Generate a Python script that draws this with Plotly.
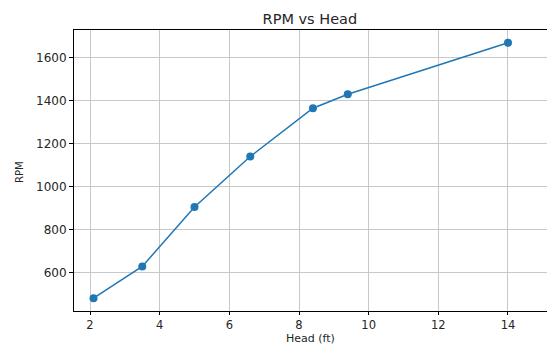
import plotly.graph_objects as go

head_ft = [2.1, 3.5, 5.0, 6.6, 8.4, 9.4, 14.0]
rpm = [480, 628, 905, 1140, 1365, 1430, 1670]
x_ticks = [2, 4, 6, 8, 10, 12, 14]
y_ticks = [600, 800, 1000, 1200, 1400, 1600]

fig = go.Figure()
fig.add_trace(go.Scatter(
    x=head_ft, y=rpm, mode="lines+markers",
    line=dict(color="#1f77b4", width=1.5),
    marker=dict(color="#1f77b4", size=8),
    showlegend=False,
))

font = "DejaVu Sans, sans-serif"
fig.update_layout(
    width=547, height=344,
    margin=dict(l=74, r=0, t=30, b=33, autoexpand=False),
    paper_bgcolor="white", plot_bgcolor="white",
    title=dict(text="RPM vs Head", x=0.5665, xanchor="center", y=1 - 19 / 344, yanchor="middle",
               font=dict(family=font, size=14.5, color="#262626")),
    font=dict(family=font, color="#262626"),
    annotations=[
        dict(text="Head (ft)", xref="paper", yref="paper", x=0.5, y=-(338 - 311) / 281,
             xanchor="center", yanchor="middle", showarrow=False, font=dict(size=11)),
        dict(text="RPM", xref="paper", yref="paper", x=-(74 - 20) / 473, y=(311 - 172) / 281,
             xanchor="center", yanchor="middle", showarrow=False, textangle=-90, font=dict(size=10)),
    ],
)
fig.update_xaxes(
    range=[1.54, 15.12], tickvals=x_ticks, ticktext=[str(v) for v in x_ticks],
    showgrid=True, gridcolor="#c8c8c8", gridwidth=1,
    showline=True, linecolor="black", linewidth=1, mirror=True,
    ticks="outside", ticklen=3, tickcolor="black",
    tickfont=dict(size=11.5), zeroline=False, automargin=False,
)
fig.update_yaxes(
    range=[420.5, 1729.5], tickvals=y_ticks, ticktext=[str(v) for v in y_ticks],
    showgrid=True, gridcolor="#c8c8c8", gridwidth=1,
    showline=True, linecolor="black", linewidth=1, mirror=False,
    ticks="outside", ticklen=4, tickcolor="black",
    tickfont=dict(size=12), zeroline=False, automargin=False,
)
fig.write_html("out.html", config={"displayModeBar": False},
               post_script="document.body.style.margin='0';document.body.style.overflow='hidden';")
